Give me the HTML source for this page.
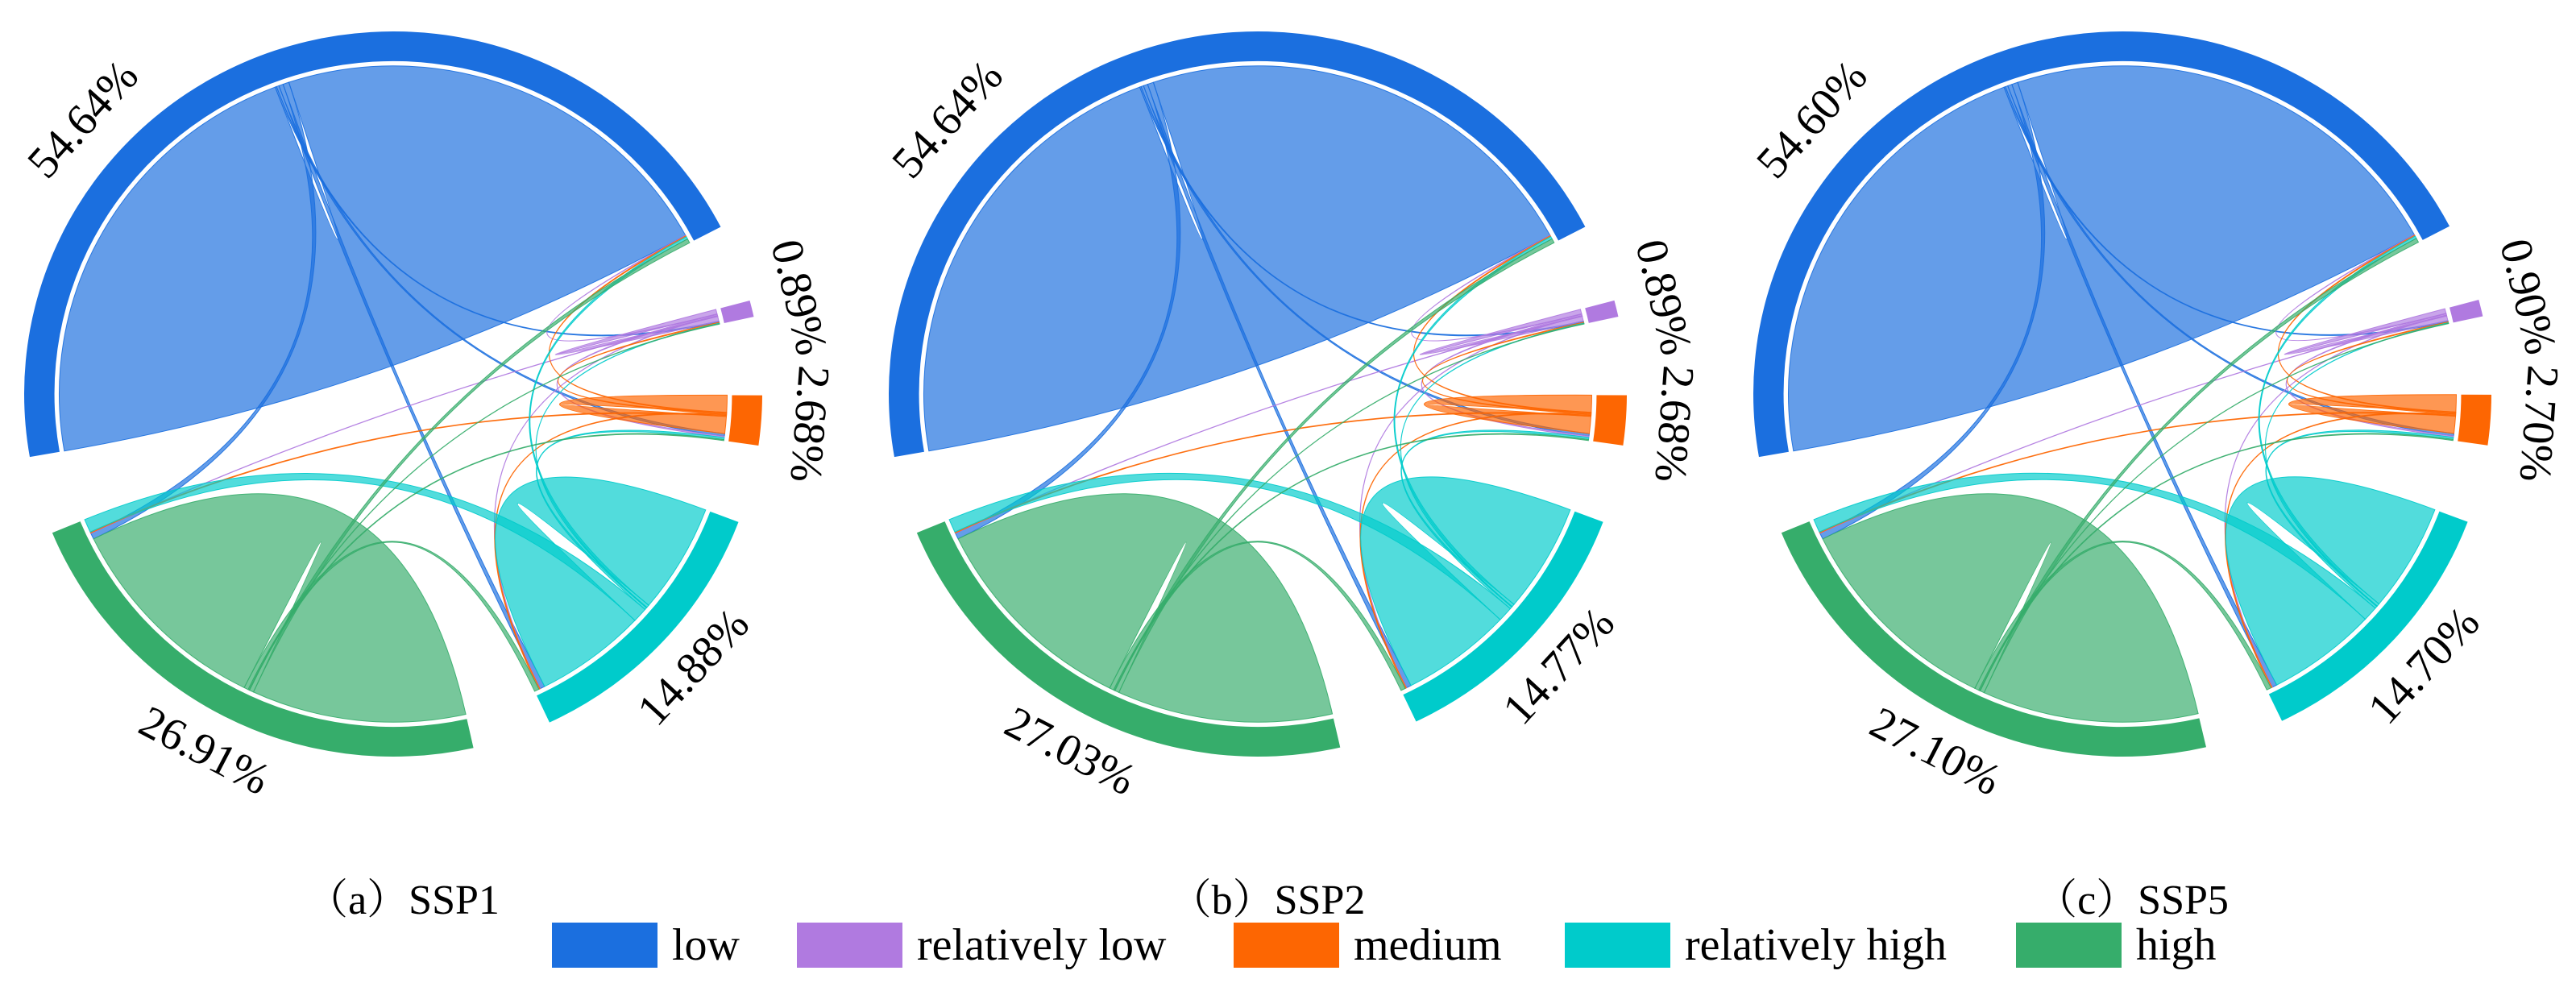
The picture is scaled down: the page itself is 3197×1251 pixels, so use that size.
<!DOCTYPE html>
<html><head><meta charset="utf-8"><style>
html,body{margin:0;padding:0;background:#fff;}
svg{display:block;}
svg text{font-family:"Liberation Serif","DejaVu Serif","Times New Roman",serif;fill:#000;}
</style></head><body>
<svg id="chart" width="3197" height="1251" viewBox="0 0 3197 1251" font-family="Liberation Serif, DejaVu Serif, serif" xmlns="http://www.w3.org/2000/svg"></svg>
<script>
const categories = ['low','relatively low','medium','relatively high','high'];
const colors = ['#1b6fdf','#b07ae0','#fd6602','#00cbcb','#36ad6b'];
const panelLetters = ['a','b','c'];
const panelNames = ['SSP1','SSP2','SSP5'];
const pctA = [54.64,0.89,2.68,14.88,26.91];
const pctB = [54.64,0.89,2.68,14.77,27.03];
const pctC = [54.60,0.90,2.70,14.70,27.10];
const flowA = [
 [26.5,0.08,0.15,0.25,0.35],
 [0.03,0.3,0.08,0.03,0.03],
 [0.06,0.06,1.0,0.06,0.06],
 [0.15,0.03,0.12,6.0,0.8],
 [0.25,0.03,0.06,0.25,12.5]];
const flowB = [
 [26.5,0.08,0.15,0.25,0.35],
 [0.03,0.3,0.08,0.03,0.03],
 [0.06,0.06,1.0,0.06,0.06],
 [0.15,0.03,0.12,5.95,0.8],
 [0.25,0.03,0.06,0.25,12.6]];
const flowC = [
 [26.5,0.08,0.15,0.25,0.35],
 [0.03,0.3,0.08,0.03,0.03],
 [0.06,0.06,1.0,0.06,0.06],
 [0.15,0.03,0.12,5.9,0.8],
 [0.25,0.03,0.06,0.25,12.6]];
const panelPcts = [pctA,pctB,pctC];
const panelFlows = [flowA,flowB,flowC];

const NS='http://www.w3.org/2000/svg';
const svg=document.getElementById('chart');
const SERIF='"Liberation Serif","DejaVu Serif",serif';
const START=260, GAP=12.5, RX=458, RY=450, R_IN=0.918, R_CH=0.905;
const labelFrac=[0.32,0.5,0.5,0.5,0.5];
function el(tag,attrs,parent){const e=document.createElementNS(NS,tag);for(const k in attrs)e.setAttribute(k,attrs[k]);(parent||svg).appendChild(e);return e;}
function pt(th,r){const a=th*Math.PI/180;return [r*Math.sin(a),-r*Math.cos(a)];}
function f(p){return p[0].toFixed(5)+' '+p[1].toFixed(5);}

panelPcts.forEach((pcts,pi)=>{
  const M=panelFlows[pi];
  const cx=488+pi*1073, cy=489;
  const pg=el('g',{});
  
  
  const g=el('g',{transform:`translate(${cx},${cy}) scale(${RX},${RY})`},pg);
  const total=pcts.reduce((a,b)=>a+b,0);
  const usable=360-GAP*categories.length;
  let ang=START;
  const sectors=[];
  const segs={};
  pcts.forEach((p,i)=>{
    const span=p/total*usable;
    sectors.push([ang,ang+span]);
    const parts=[['o',i]];
    for(let j=0;j<5;j++) if(j!==i) parts.push(['o',j]);
    parts.push(['i',i]);
    for(let j=0;j<5;j++) if(j!==i) parts.push(['i',j]);
    const vals=parts.map(([t,j])=>t==='o'?M[i][j]:M[j][i]);
    const sum=vals.reduce((a,b)=>a+b,0);
    let a=ang;
    parts.forEach(([t,j],k)=>{const w=vals[k]/sum*span;segs[t+i+'_'+j]=[a,a+w];a+=w;});
    ang+=span+GAP;
  });
  for(let i=0;i<5;i++)for(let j=0;j<5;j++){
    if(M[i][j]<=0)continue;
    const A=segs['o'+i+'_'+j], B=segs['i'+j+'_'+i];
    const r=R_CH;
    const d=`M${f(pt(A[0],r))} A${r} ${r} 0 ${A[1]-A[0]>180?1:0} 1 ${f(pt(A[1],r))} Q0 0 ${f(pt(B[0],r))} A${r} ${r} 0 ${B[1]-B[0]>180?1:0} 1 ${f(pt(B[1],r))} Q0 0 ${f(pt(A[0],r))}Z`;
    const c=el('path',{d:d,fill:colors[i],'fill-opacity':0.68,stroke:colors[i],'stroke-width':1,'stroke-opacity':0.9,'vector-effect':'non-scaling-stroke'},g);
    
    
  }
  sectors.forEach(([a0,a1],i)=>{
    const lg=a1-a0>180?1:0;
    const d=`M${f(pt(a0,1))} A1 1 0 ${lg} 1 ${f(pt(a1,1))} L${f(pt(a1,R_IN))} A${R_IN} ${R_IN} 0 ${lg} 0 ${f(pt(a0,R_IN))}Z`;
    const s=el('path',{d:d,fill:colors[i]},g);
    
    
    const th=(a0+(a1-a0)*labelFrac[i])%360;
    const p=pt(th,1.12);
    const x=cx+p[0]*RX, y=cy+p[1]*RY;
    const rot=(th>100&&th<260)?th-180:th;
    const t=el('text',{x:0,y:0,'font-family':SERIF,'font-size':56,'text-anchor':'middle','dominant-baseline':'middle',transform:`translate(${x.toFixed(1)},${y.toFixed(1)}) rotate(${rot.toFixed(1)})`},pg);
    t.textContent=pcts[i].toFixed(2)+'%';
    
    
  });
  const st=el('text',{x:cx+12,y:1134,'font-family':SERIF,'font-size':52,'text-anchor':'middle'},pg);
  
  
  const t1=el('tspan',{'font-family':'"Noto Serif CJK SC","Noto Sans CJK SC",serif'},st);t1.textContent='（';
  const t2=el('tspan',{},st);t2.textContent=panelLetters[pi];
  const t3=el('tspan',{'font-family':'"Noto Serif CJK SC","Noto Sans CJK SC",serif'},st);t3.textContent='）';
  const t4=el('tspan',{},st);t4.textContent=panelNames[pi];
});
const legX=[685,989,1531,1942,2502];
categories.forEach((c,i)=>{
  const lg=el('g',{});
  
  
  el('rect',{x:legX[i],y:1145,width:131,height:56,fill:colors[i]},lg);
  const t=el('text',{x:legX[i]+149,y:1191,'font-family':SERIF,'font-size':56},lg);
  t.textContent=c;
});
</script>
</body></html>
